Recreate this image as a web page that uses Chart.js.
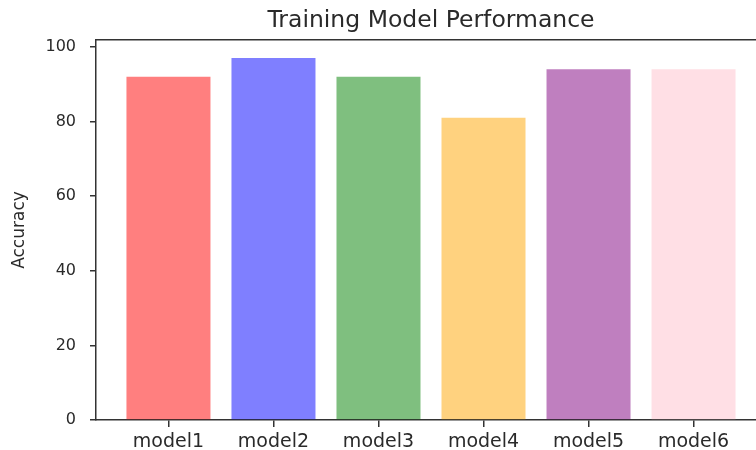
<!DOCTYPE html>
<html>
<head>
<meta charset="utf-8">
<script src="https://cdn.jsdelivr.net/npm/chart.js@4"></script>
<style>
  html, body { margin: 0; padding: 0; background: #fff; overflow: hidden; }
  #wrap { width: 862px; height: 450px; }
</style>
</head>
<body>
<div id="wrap"><canvas id="c" width="862" height="450"></canvas></div>
<script>
const categories = ['model1', 'model2', 'model3', 'model4', 'model5', 'model6'];
const accuracy = [92, 97, 92, 81, 94, 94];
const barColors = [
  'rgba(255,0,0,0.5)',
  'rgba(0,0,255,0.5)',
  'rgba(0,128,0,0.5)',
  'rgba(255,165,0,0.5)',
  'rgba(128,0,128,0.5)',
  'rgba(255,192,203,0.5)'
];
const yTicks = [0, 20, 40, 60, 80, 100];
const yMax = 101.85;
const xMin = -0.69, xMax = 5.69;

const axisColor = '#333333';
const textColor = '#2a2a2a';
const fontFamily = '"DejaVu Sans", sans-serif';

const points = categories.map((c, i) => ({ x: i, y: accuracy[i] }));

new Chart(document.getElementById('c'), {
  type: 'bar',
  data: {
    datasets: [{
      data: points,
      backgroundColor: barColors,
      borderWidth: 0,
      barPercentage: 0.8,
      categoryPercentage: 1.0
    }]
  },
  options: {
    responsive: false,
    animation: false,
    layout: { padding: 0 },
    plugins: {
      legend: { display: false },
      tooltip: { enabled: false },
      title: {
        display: true,
        text: 'Training Model Performance',
        color: textColor,
        font: { family: fontFamily, size: 23.5, weight: 'normal', lineHeight: 1.2 },
        padding: { top: 6.9, bottom: 4.9 }
      }
    },
    scales: {
      x: {
        type: 'linear',
        position: 'bottom',
        min: xMin,
        max: xMax,
        offset: false,
        afterBuildTicks: s => { s.ticks = categories.map((c, i) => ({ value: i })); },
        afterFit: s => { s.height = 30; },
        grid: { display: true, offset: false, drawOnChartArea: false, drawTicks: true, tickLength: 7, color: axisColor, lineWidth: 1.5 },
        border: { display: true, color: axisColor, width: 1.5 },
        ticks: {
          color: textColor,
          font: { family: fontFamily, size: 19 },
          padding: 4,
          maxRotation: 0,
          autoSkip: false,
          callback: v => categories[v]
        }
      },
      xTop: {
        type: 'linear',
        position: 'top',
        min: xMin,
        max: xMax,
        afterFit: s => { s.height = 0; },
        grid: { display: false, drawTicks: false },
        border: { display: true, color: axisColor, width: 1.5 },
        ticks: { display: false }
      },
      y: {
        type: 'linear',
        position: 'left',
        min: 0,
        max: yMax,
        afterBuildTicks: s => { s.ticks = yTicks.map(v => ({ value: v })); },
        afterFit: s => { s.width = 96; },
        grid: { display: true, drawOnChartArea: false, drawTicks: true, tickLength: 6, color: axisColor, lineWidth: 1.5 },
        border: { display: true, color: axisColor, width: 1.5 },
        ticks: {
          color: textColor,
          font: { family: fontFamily, size: 16 },
          padding: 14
        },
        title: {
          display: true,
          text: 'Accuracy',
          color: textColor,
          font: { family: fontFamily, size: 17 },
          padding: { top: 9, bottom: 0 }
        }
      },
      yRight: {
        type: 'linear',
        position: 'right',
        min: 0,
        max: yMax,
        afterFit: s => { s.width = 96; },
        grid: { display: false, drawTicks: false },
        border: { display: true, color: axisColor, width: 1.5 },
        ticks: { display: false }
      }
    }
  }
});
</script>
</body>
</html>
